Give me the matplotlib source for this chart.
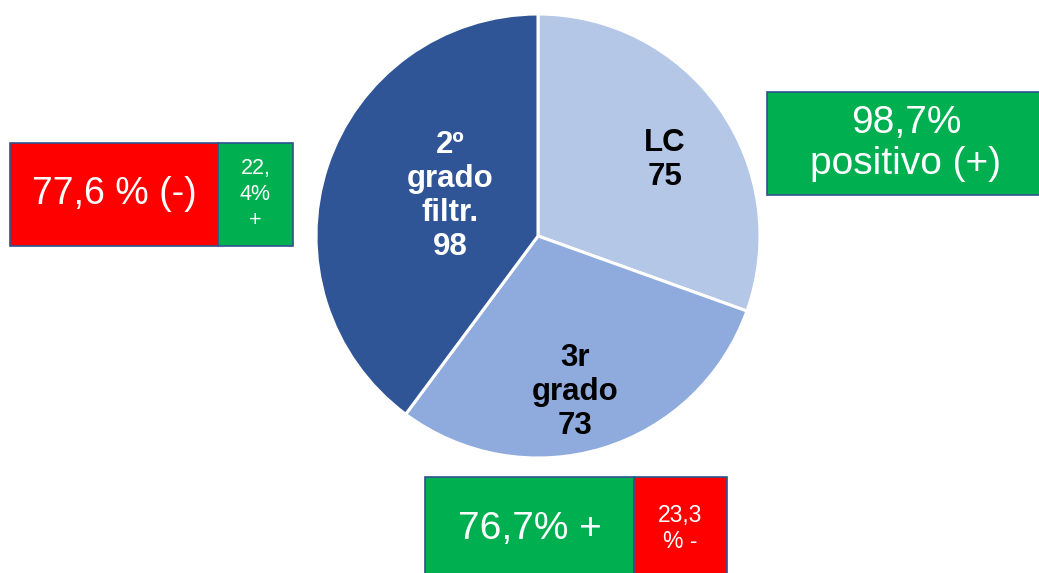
import matplotlib
matplotlib.use('Agg')
import matplotlib.pyplot as plt
from matplotlib.patches import Rectangle

plt.rcParams['font.family'] = ['Liberation Sans', 'DejaVu Sans']

# data
categories = ['LC', '3r grado', '2º grado filtr.']
values = [75, 73, 98]
slice_labels = ['LC\n75', '3r\ngrado\n73', '2º\ngrado\nfiltr.\n98']
slice_colors = ['#B4C7E7', '#8FAADC', '#2F5597']
label_colors = ['black', 'black', 'white']

W, H = 1039, 573
fig = plt.figure(figsize=(W / 100, H / 100), dpi=100)
ax = fig.add_axes([0, 0, 1, 1])

cx, cy, r = 538, H - 236, 222
ax.pie(values, colors=slice_colors, startangle=90, counterclock=False,
       center=(cx, cy), radius=r, frame=True,
       wedgeprops=dict(edgecolor='white', linewidth=2.2))
ax.set_xlim(0, W)
ax.set_ylim(0, H)
ax.set_aspect('equal')
ax.axis('off')

# slice labels (pixel positions from top-left)
label_pos = [(665, 160), (575, 392), (450, 196)]
for lab, (px, py), col in zip(slice_labels, label_pos, label_colors):
    ax.text(px, H - py, lab, ha='center', va='center', fontsize=22.5,
            fontweight='bold', color=col, linespacing=1.18)

green = '#00B050'
red = '#FF0000'
edge = '#2F528F'


def box(x0, y0, x1, y1, color, text, size, ls=1.2):
    ax.add_patch(Rectangle((x0, H - y1), x1 - x0, y1 - y0, facecolor=color,
                           edgecolor=edge, linewidth=1.2, clip_on=False))
    ax.text((x0 + x1) / 2, H - (y0 + y1) / 2, text, ha='center', va='center',
            fontsize=size, color='white', linespacing=ls)


box(10, 143, 218, 246, red, '77,6 % (-)', 27)
box(218, 143, 293, 246, green, '22,\n4%\n+', 15.5, 1.3)
box(767, 92, 1045, 195, green, '98,7%\npositivo (+)', 28, 1.18)
box(425, 477, 634, 580, green, '76,7% +', 28)
box(634, 477, 727, 580, red, '23,3\n% -', 16.5, 1.22)

fig.savefig('out.png', dpi=100)
